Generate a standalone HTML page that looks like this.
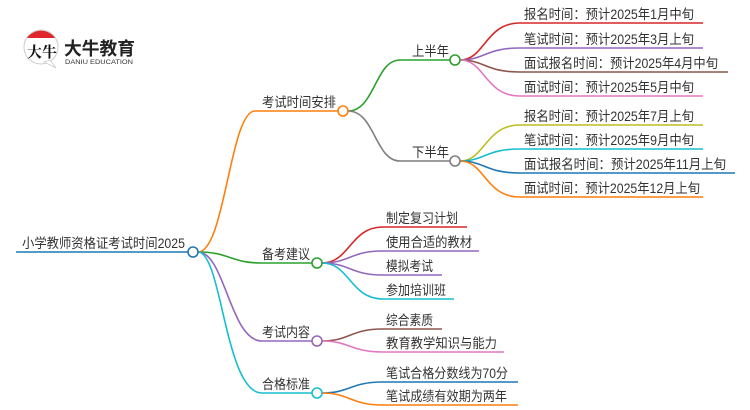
<!DOCTYPE html>
<html><head><meta charset="utf-8"><style>
html,body{margin:0;padding:0;background:#fff;width:750px;height:410px;overflow:hidden}
text{font-family:"Liberation Sans","Noto Sans CJK SC",sans-serif;font-size:13.5px;fill:#333}
</style></head><body>
<svg width="750" height="410" viewBox="0 0 750 410" xmlns="http://www.w3.org/2000/svg">
<g fill="none" stroke-width="1.6">
<path d="M16 252 H188" stroke="#1f77b4"/>
<path d="M198 252 C225 252 230 111 255 111 H338" stroke="#ff7f0e"/>
<path d="M198 252 C230 252 230 263 262 263 H312" stroke="#2ca02c"/>
<path d="M198 252 C225 252 230 341 262 341 H312" stroke="#9467bd"/>
<path d="M198 252 C222 252 225 393 262 393 H312" stroke="#17becf"/>
<path d="M348 111 C375 111 375 60 400 60 H450" stroke="#2ca02c"/>
<path d="M348 111 C375 111 375 161 400 161 H450" stroke="#7f7f7f"/>
<path d="M460 60 C485 60 485 23 520 23 H703" stroke="#d62728"/>
<path d="M460 60 C485 60 485 48 520 48 H703" stroke="#9467bd"/>
<path d="M460 60 C485 60 485 72 520 72 H728" stroke="#8c564b"/>
<path d="M460 60 C485 60 485 96 520 96 H703" stroke="#e377c2"/>
<path d="M460 161 C485 161 485 125 520 125 H703" stroke="#bcbd22"/>
<path d="M460 161 C485 161 485 149 520 149 H703" stroke="#17becf"/>
<path d="M460 161 C485 161 485 173 520 173 H735" stroke="#1f77b4"/>
<path d="M460 161 C485 161 485 197 520 197 H703" stroke="#ff7f0e"/>
<path d="M322 263 C350 263 350 227 383 227 H467" stroke="#d62728"/>
<path d="M322 263 C350 263 350 251 383 251 H479" stroke="#9467bd"/>
<path d="M322 263 C350 263 350 275 383 275 H442" stroke="#9467bd"/>
<path d="M322 263 C350 263 350 299 383 299 H454" stroke="#17becf"/>
<path d="M322 341 C350 341 350 329 383 329 H442" stroke="#8c564b"/>
<path d="M322 341 C350 341 350 352 383 352 H504" stroke="#e377c2"/>
<path d="M322 393 C350 393 350 382 383 382 H518" stroke="#1f77b4"/>
<path d="M322 393 C350 393 350 405 383 405 H518" stroke="#ff7f0e"/>
</g>
<g fill="#fff" stroke-width="1.6">
<circle cx="193" cy="252" r="5" stroke="#1f77b4"/>
<circle cx="343" cy="111" r="5" stroke="#ff7f0e"/>
<circle cx="455" cy="60" r="5" stroke="#2ca02c"/>
<circle cx="455" cy="161" r="5" stroke="#7f7f7f"/>
<circle cx="317" cy="263" r="5" stroke="#2ca02c"/>
<circle cx="317" cy="341" r="5" stroke="#9467bd"/>
<circle cx="317" cy="393" r="5" stroke="#17becf"/>
</g>
<g lengthAdjust="spacingAndGlyphs">
<text x="22" y="248" textLength="163" lengthAdjust="spacingAndGlyphs">小学教师资格证考试时间2025</text>
<text x="262" y="107" textLength="74" lengthAdjust="spacingAndGlyphs">考试时间安排</text>
<text x="412" y="56" textLength="37" lengthAdjust="spacingAndGlyphs">上半年</text>
<text x="412" y="157" textLength="37" lengthAdjust="spacingAndGlyphs">下半年</text>
<text x="524" y="19" textLength="170" lengthAdjust="spacingAndGlyphs">报名时间：预计2025年1月中旬</text>
<text x="524" y="44" textLength="170" lengthAdjust="spacingAndGlyphs">笔试时间：预计2025年3月上旬</text>
<text x="524" y="68" textLength="194" lengthAdjust="spacingAndGlyphs">面试报名时间：预计2025年4月中旬</text>
<text x="524" y="92" textLength="170" lengthAdjust="spacingAndGlyphs">面试时间：预计2025年5月中旬</text>
<text x="524" y="121" textLength="170" lengthAdjust="spacingAndGlyphs">报名时间：预计2025年7月上旬</text>
<text x="524" y="145" textLength="170" lengthAdjust="spacingAndGlyphs">笔试时间：预计2025年9月中旬</text>
<text x="524" y="169" textLength="202" lengthAdjust="spacingAndGlyphs">面试报名时间：预计2025年11月上旬</text>
<text x="524" y="193" textLength="176" lengthAdjust="spacingAndGlyphs">面试时间：预计2025年12月上旬</text>
<text x="262" y="259" textLength="48" lengthAdjust="spacingAndGlyphs">备考建议</text>
<text x="262" y="337" textLength="48" lengthAdjust="spacingAndGlyphs">考试内容</text>
<text x="262" y="389" textLength="48" lengthAdjust="spacingAndGlyphs">合格标准</text>
<text x="386" y="223" textLength="72" lengthAdjust="spacingAndGlyphs">制定复习计划</text>
<text x="386" y="247" textLength="86" lengthAdjust="spacingAndGlyphs">使用合适的教材</text>
<text x="386" y="271" textLength="47" lengthAdjust="spacingAndGlyphs">模拟考试</text>
<text x="386" y="295" textLength="60" lengthAdjust="spacingAndGlyphs">参加培训班</text>
<text x="386" y="325" textLength="47" lengthAdjust="spacingAndGlyphs">综合素质</text>
<text x="386" y="348" textLength="111" lengthAdjust="spacingAndGlyphs">教育教学知识与能力</text>
<text x="386" y="378" textLength="122" lengthAdjust="spacingAndGlyphs">笔试合格分数线为70分</text>
<text x="386" y="401" textLength="121" lengthAdjust="spacingAndGlyphs">笔试成绩有效期为两年</text>
</g>
<circle cx="41" cy="47" r="17" fill="#fff" stroke="#ccc" stroke-width="1"/>
<path d="M27 38 A17 17 0 0 1 55 38 Z" fill="#e0262b"/>
<path d="M44 62 L56 68 L50 60 Z" fill="#fff" stroke="#ccc" stroke-width="0.8"/>
<text x="27" y="57" style="font-size:15px;fill:#111;font-weight:bold;font-family:'Noto Serif CJK SC',serif">大牛</text>
<text x="64" y="55" textLength="71" lengthAdjust="spacingAndGlyphs" style="font-size:18px;font-weight:bold;fill:#222">大牛教育</text>
<text x="65" y="64" textLength="68" lengthAdjust="spacingAndGlyphs" style="font-size:6px;fill:#333">DANIU EDUCATION</text>
</svg>
</body></html>
